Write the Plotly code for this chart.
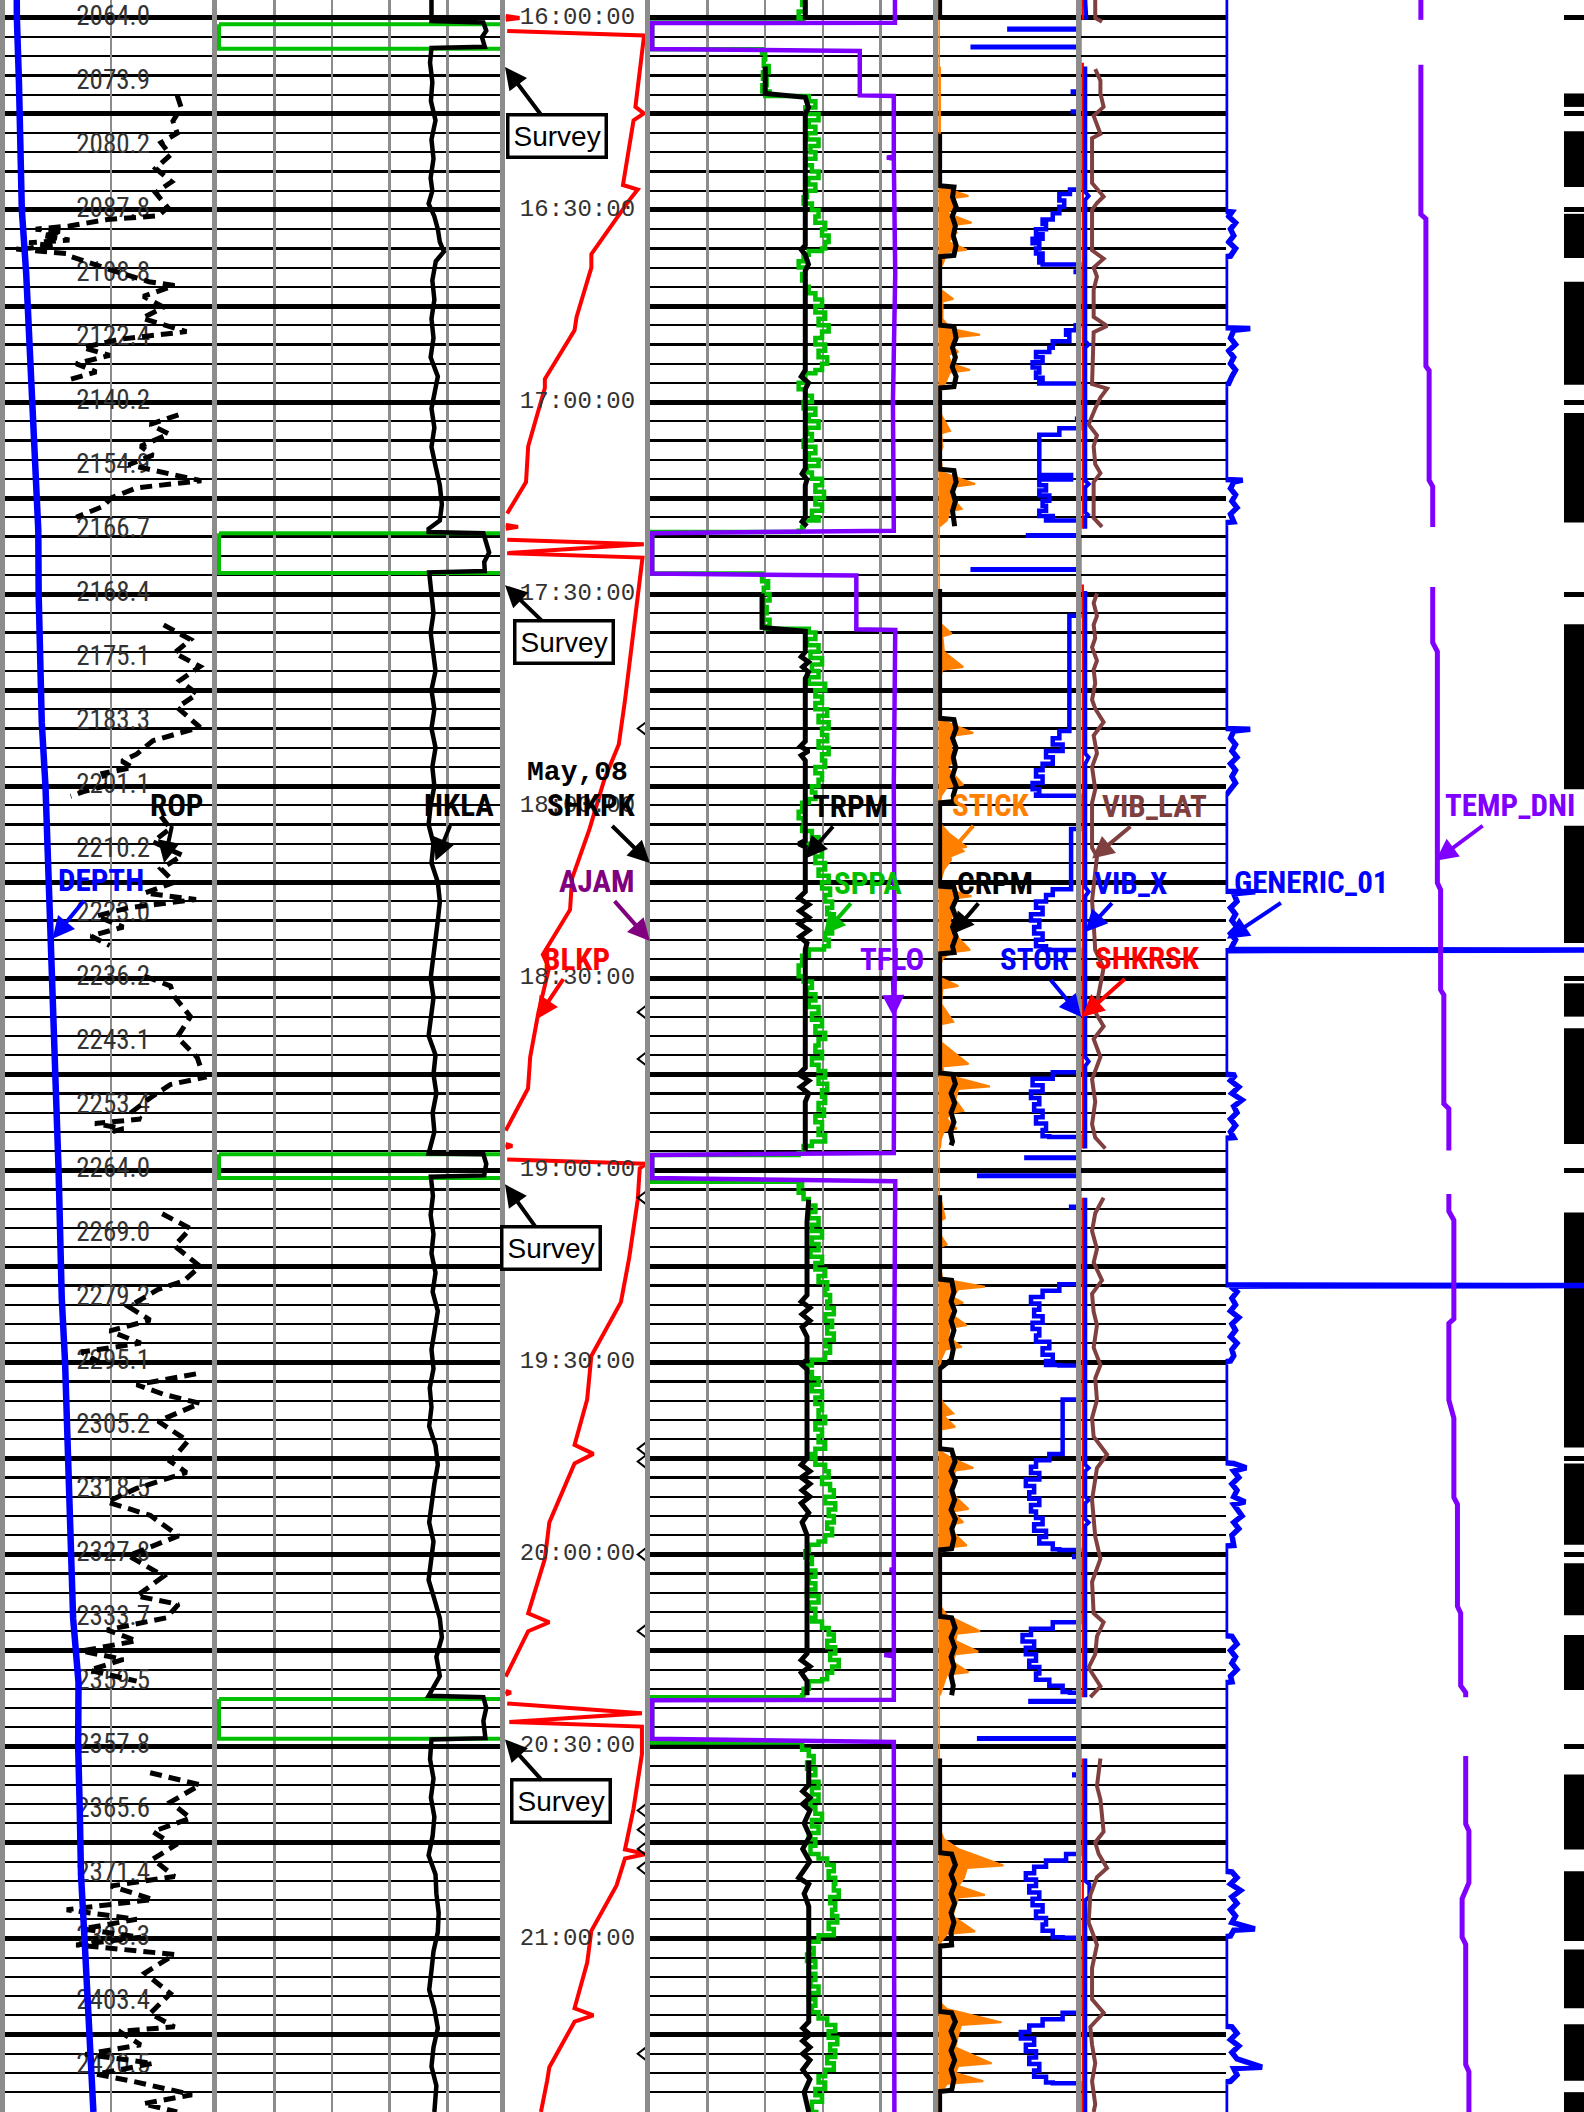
import plotly.graph_objects as go

# ---------------------------------------------------------------- data
# vertical axis: minutes after 16:00 on May 08 (one thin grid row = 3 min)
Y_RANGE = [327.1, -2.8]

DEPTH_LABEL_MIN = [0, 10, 20, 30, 40, 50, 60, 70, 80, 90, 100, 110, 120, 130, 140, 150, 160,
                   170, 180, 190, 200, 210, 220, 230, 240, 250, 260, 270, 280, 290, 300, 310, 320]
DEPTH_LABELS = ["2064.0", "2073.9", "2080.2", "2087.8", "2108.8", "2122.4", "2140.2", "2154.9",
                "2166.7", "2168.4", "2175.1", "2183.3", "2201.1", "2210.2", "2223.0", "2236.2",
                "2243.1", "2253.4", "2264.0", "2269.0", "2279.2", "2295.1", "2305.2", "2318.5",
                "2327.8", "2333.7", "2359.5", "2357.8", "2365.6", "2371.4", "2388.3", "2403.4", "2420.5"]
DEPTH_CURVE_MIN = [-2.8] + DEPTH_LABEL_MIN + [327.1]
DEPTH_CURVE_FT = [2063.5] + [float(v) for v in DEPTH_LABELS] + [2431.0]

TIME_LABEL_MIN = [0, 30, 60, 90, 123.1, 150, 180, 210, 240, 270, 300]
TIME_LABELS = ["16:00:00", "16:30:00", "17:00:00", "17:30:00", "18:00:00", "18:30:00", "19:00:00",
               "19:30:00", "20:00:00", "20:30:00", "21:00:00"]
DATE_LABEL_MIN = [117.9]
DATE_LABELS = ["<b>May,08</b>"]

SURVEYS = [(1.0, 4.83), (80.5, 86.7), (177.5, 181.2), (262.6, 268.8)]
SURVEY_NOTE_MIN = [7.66, 88.6, 182.2, 268.9]

SHKPK_MIN = [111.0, 155.3, 162.6, 184.3, 223.5, 225.5, 240.0, 252.0, 280.0, 283.0, 286.0, 289.0, 318.0]

FLAG_BLOCKS = [(11.8, 13.9), (17.7, 26.4), (30.6, 37.5), (41.2, 57.3), (61.7, 78.8), (94.7, 120.5),
               (126.2, 144.5), (150.8, 156.0), (157.8, 175.9), (186.6, 223.3), (225.8, 238.5),
               (241.4, 249.5), (252.6, 261.2), (274.4, 286.1), (289.5, 299.9), (301.7, 310.9),
               (313.4, 322.2), (324.0, 327.1)]

# curve samples: (minute, value in % of track width); None = gap
ROP = [(12.1, 81.3), (14.0, 83.2), (16.1, 79.3), (18.0, 81.3), (19.5, 73.6), (21.4, 78.1), (23.5, 71.1),
       (25.6, 78.7), (27.3, 71.1), (29.6, 76.8), (30.9, 72.3), (31.5, 48.1), (32.5, 30.3), (33.0, 14.3),
       (33.4, 27.1), (34.0, 17.5), (34.7, 30.3), (35.1, 11.2), (35.7, 23.9), (36.1, 4.8), (36.8, 29.0),
       (37.2, 30.3), (39.3, 49.4), (41.2, 67.9), (41.8, 80.0), (43.5, 65.3), (45.2, 74.9), (46.9, 64.7),
       (49.0, 85.7), (49.6, 67.2), (50.2, 53.9), (51.5, 36.6), (52.7, 49.4), (54.0, 33.5), (55.3, 43.0),
       (56.5, 30.3), None,
       (62.0, 81.9), (63.5, 68.5), (65.0, 77.4), (66.9, 64.0), (68.3, 69.8), (69.8, 58.3), (72.3, 92.7),
       (73.4, 62.1), (75.0, 50.0), (76.3, 46.2), (78.0, 33.5), None,
       (94.8, 74.9), (97.1, 87.6), (99.2, 80.0), (101.3, 92.1), (103.5, 82.5), (105.6, 90.8), (107.7, 81.3),
       (110.8, 92.1), (112.9, 69.8), (115.0, 62.1), (116.1, 55.1), (117.1, 60.2), (118.0, 46.2),
       (119.9, 48.1), (120.9, 36.6), (121.6, 30.9), None,
       (124.7, 73.6), (126.6, 78.1), (128.7, 69.8), (130.8, 83.8), (132.9, 73.6), (135.0, 80.0),
       (136.7, 66.0), (137.7, 90.2), (139.0, 58.3), (140.3, 43.0), (142.0, 55.8), (143.4, 40.5),
       (144.9, 49.4), None,
       (149.7, 66.0), (151.2, 78.1), (152.9, 80.0), (156.0, 87.6), (159.2, 81.3), (162.4, 90.8),
       (165.5, 94.0), (166.6, 78.1), (168.7, 68.5), (170.8, 60.2), (172.0, 64.0), (172.7, 42.4),
       (173.5, 55.8), (174.2, 48.1), None,
       (186.8, 74.2), (189.1, 87.6), (191.8, 80.0), (195.0, 92.1), (197.3, 84.4), (198.6, 72.3),
       (201.3, 58.3), (203.4, 68.5), (205.1, 49.4), (207.0, 64.0), (208.4, 36.0), (210.3, 46.2), None,
       (211.8, 90.2), (213.5, 62.1), (215.0, 74.9), (216.4, 92.1), (219.2, 72.3), (222.3, 86.4),
       (225.5, 78.1), (227.2, 85.7), (229.7, 62.1), (231.8, 48.1), (233.9, 68.5), (237.1, 81.9),
       (240.2, 58.3), (243.4, 74.9), (246.5, 62.1), (247.8, 81.9), (249.9, 76.2), (251.8, 48.1),
       (253.5, 62.1), (255.1, 36.0), (256.4, 55.8), (258.1, 39.8), (259.8, 62.1), None,
       (274.1, 68.5), (276.0, 92.1), (278.7, 78.1), (281.2, 87.6), (283.3, 69.8), (285.5, 80.0),
       (287.6, 69.8), (290.3, 80.0), (291.8, 50.0), (293.9, 69.8), (295.5, 29.0), (297.0, 62.1),
       (298.5, 36.6), (299.8, 64.0), (301.0, 33.5), (302.5, 80.0), (305.4, 66.0), (308.6, 78.1),
       (311.7, 68.5), (313.8, 80.0), (314.5, 53.9), (316.6, 64.0), (318.1, 37.9), (319.5, 69.8),
       (321.2, 43.0), (322.3, 60.2), (324.4, 88.3), (325.8, 65.3), (327.1, 81.3)]

HKLA = [(-2.8, 74.5), (0.5, 74.5), (0.7, 92.5), (2, 93.5), (3, 92), (4.5, 93), (4.7, 74.5), (7, 74.0),
        (10, 74.8), (13, 74.3), (16, 75.9), (19, 74.5), (22, 75.2), (25, 74.2), (27, 74.8), (29, 73.5),
        (31, 75.5), (33, 76.7), (35, 77.4), (36.5, 78.8), (38, 76), (41, 74.8), (44, 75.5), (47, 74.5),
        (50, 75.2), (53, 74.2), (56, 76.7), (58, 75.8), (61, 74.5), (64, 75.5), (67, 74.5), (70, 75.9),
        (73, 77.4), (76, 78.1), (78.5, 77.4), (79.8, 73.5), (80.3, 73.5), (80.5, 92.5), (82, 93.5),
        (83.5, 94.5), (85, 92.8), (86.4, 93), (86.6, 73.7), (90, 74.5), (93, 75.2), (96, 74.2),
        (99, 74.9), (102, 75.9), (105, 74.5), (108, 75.5), (111, 74.5), (114, 75.9), (117, 74.8),
        (120, 75.5), (123, 74.2), (126, 73.5), (129, 75.2), (132, 74.5), (135, 76.7), (138, 77.4),
        (141, 76.7), (144, 75.9), (147, 74.8), (150, 74.2), (153, 75.2), (156, 74.5), (159, 73.5),
        (162, 75.9), (165, 75.2), (168, 76.2), (171, 74.9), (174, 75.5), (177, 74.0), (177.4, 73.5),
        (177.5, 92.5), (179, 93.5), (180.8, 92.8), (181, 74.3), (184, 75), (187, 74.2), (190, 75.2),
        (193, 74.5), (196, 75.9), (199, 74.9), (202, 76.7), (205, 75.5), (208, 74.5), (211, 75.2),
        (214, 73.9), (217, 74.5), (220, 73.7), (223, 75.9), (226, 76.7), (229, 75.5), (232, 74.5),
        (235, 73.7), (238, 75.2), (241, 74.3), (244, 73.5), (247, 75.5), (250, 77.4), (253, 78.1),
        (256, 76.2), (259, 77.4), (261.5, 74.2), (262.1, 73.5), (262.3, 92.5), (264, 93.5), (266, 92.5),
        (268.7, 93.2), (268.9, 74.5), (272, 74), (275, 75.2), (278, 74.3), (281, 75.5), (284, 74.9),
        (287, 73.5), (290, 75.9), (293, 76.2), (296, 77), (299, 76.7), (302, 75.2), (305, 74.5),
        (308, 73.7), (311, 75.5), (314, 76.7), (317, 75.2), (320, 74.5), (323, 76.2), (327.1, 75.5)]

BLKP = [(-0.3, 0.5), (0.0, 10), (0.3, 0.5), None,
        (2.04, 1.5), (2.74, 95.8), (3.09, 95.8), (13.9, 90), (14.9, 95.8), (16.0, 88.7), (26.1, 81.4),
        (26.8, 91.6), (28.5, 85.7), (36.9, 59.6), (39.0, 59.6), (46.7, 49.4), (48.8, 48), (56.4, 27.5),
        (57.8, 27.5), (66.9, 16), (72.5, 14.5), (77.4, 1.5), None,
        (79.2, 0.5), (79.5, 9), (79.8, 0.5), None,
        (81.5, 1.5), (82.2, 95.8), (83.6, 1.5), (84.3, 94.9), (106.6, 82.8), (113.5, 78.5), (119.0, 68.5),
        (126.7, 58.3), (134.4, 46.3), (139.3, 44.9), (146.3, 26.1), (148.4, 30.4), (155.3, 23.1),
        (162.3, 17.4), (167.2, 15.9), (173.8, 0.5), None,
        (175.9, 0.5), (176.2, 5), (176.5, 0.5), None,
        (178.3, 1.5), (179.0, 97.2), (179.7, 93), (184.6, 91.6), (193.7, 85.7), (200.6, 80), (209.0, 59.6),
        (215.8, 56.7), (222.9, 48), (224.3, 61), (225.8, 48), (235.0, 30.6), (240.7, 27.5), (249.2, 16),
        (250.6, 30.6), (252.0, 16), (259.1, 0.5), None,
        (261.3, 0.5), (261.6, 4), (261.9, 0.5), None,
        (263.3, 1.5), (264.8, 94.5), (266.2, 3), (266.9, 94.5), (271.2, 94.5), (279.7, 88.7), (286.1, 82.8),
        (286.8, 97.2), (287.5, 82.8), (291.7, 77), (298.8, 59.6), (303.8, 56.7), (310.9, 48), (312.0, 61),
        (313.0, 48), (320.1, 30.6), (322.2, 29.1), (327.1, 24.8)]

TFLO = [(-2.8, 85), (0.77, 85), (0.78, 0.8), (4.84, 0.8), (5.18, 72.8), (12.1, 72.8), (12.2, 84.6),
        (21.7, 84.6), (21.8, 82.2), (22.0, 84.6), (40, 85.1), (60, 84.3), (80.1, 84.6), (80.5, 0.8),
        (86.8, 0.8), (87.1, 71.6), (95.5, 71.6), (95.6, 85.1), (120, 84.6), (150, 84.9), (177.3, 84.6),
        (177.6, 0.8), (181.2, 0.8), (181.7, 85.1), (220, 84.6), (242.3, 84.6), (242.4, 83.2),
        (242.6, 84.6), (255.6, 84.6), (255.7, 81.3), (255.9, 84.6), (262.7, 84.6), (262.8, 0.8),
        (268.8, 0.8), (269.3, 84.6), (327.1, 84.8)]

TRPM = [(-2.8, 53.9), (0.3, 53.9), None,
        (7.6, 40), (11.8, 40), (12.4, 53.9), (14, 55), (15, 53.9), (35.5, 53.9), (36.2, 52.5), (37, 53.9),
        (38.5, 55), (39.5, 53.9), (55, 53.9), (56, 52.5), (57, 55), (58, 53.9), (70.4, 53.9), (71.2, 52.8),
        (72.1, 54.5), (73, 53.9), (78, 53.9), (78.7, 52.8), (79.4, 54.5), None,
        (89.9, 38.9), (95.2, 38.9), (95.8, 53.9), (99, 53.9), (99.8, 52.5), (100.6, 55), (101.4, 53),
        (102.2, 55), (103.2, 53.9), (113, 53.9), (113.8, 52.2), (114.5, 55.1), (115.2, 52.5), (116, 53.9),
        (128.5, 53.9), (129, 51.6), (129.5, 53.9), (136.5, 53.9), (137.5, 51.6), (138.5, 55.1), (139.5, 52),
        (140.5, 55.1), (141.5, 51.8), (142.5, 55.1), (143.5, 52), (144.5, 54.5), (145.5, 53.9), (164, 53.9),
        (165, 51.6), (166, 55.1), (167, 52.2), (168, 55.1), (169.3, 53.9), (176.9, 53.9), None,
        (184.6, 55.1), (188, 54.5), (199.5, 54.5), (200.5, 52.5), (201.5, 55.5), (202.5, 52.8), (203.5, 55.5),
        (204.5, 52.8), (206, 54.5), (209.6, 54.5), (210.3, 52.5), (211.1, 54.5), (225, 54.5), (226, 52.5),
        (227, 55.5), (228, 52.5), (229, 55.5), (230, 52.8), (231, 55.5), (232, 52.5), (233.5, 55.1),
        (235, 52.8), (237, 54.5), (255.5, 54.5), (256.5, 52.5), (257.5, 55.5), (258.5, 52.5), (259.8, 54.5),
        (262, 54.5), None,
        (272.2, 55.1), (276, 55.1), (277, 53), (278, 55.5), (279, 53), (280, 55.5), (282, 53.5), (284, 55.5),
        (286, 53), (288, 55.5), (290.5, 51.6), (291.5, 55.1), (293, 53.5), (295, 55.1), (313, 55.1),
        (314, 53), (315, 55.5), (316, 53), (317, 55.5), (318, 53), (319, 55.5), (320.5, 53), (322, 55.5),
        (324, 53.5), (327.1, 55.1)]

SPPA = [(-2.8, 52.8), (-2, 53.9), (-1, 51.6), (0, 53.3), (0.5, 52.8), (0.7, 0.8), (4.8, 0.8), (4.9, 38.9),
        (5.5, 40), (6.5, 39.5), (7.5, 41.2), (8.5, 39.2), (9.5, 40.5), (10.5, 39), (11.5, 41.5), (12.0, 40),
        (12.2, 55.1), (13, 57.4), (14, 53.9), (15, 58.5), (16, 55.1), (17, 57.4), (18, 54.5), (19, 58.5),
        (20, 55.7), (21, 57.4), (22, 53.9), (23, 56.2), (24, 58.5), (25, 55), (26, 57.4), (27, 54.5),
        (28, 53.3), (29, 56.2), (30, 58.5), (31, 57.4), (32, 60.8), (33, 59.7), (34, 62), (35, 60.8),
        (36, 59.7), (36.4, 55.1), (37, 53.3), (38, 51.6), (39, 53.9), (40, 52.8), (41, 53.9), (42, 55.1),
        (43, 57.4), (44, 59.7), (45, 57.4), (46, 60.8), (47, 58.5), (48, 62), (49, 59.7), (50, 57.4),
        (51, 60.8), (52, 58.5), (53, 61.5), (54, 59.7), (55, 57.4), (55.5, 53.9), (57, 51.6), (58, 53.9),
        (59, 56.2), (60, 53.3), (61, 57.4), (62, 55.1), (63, 58.5), (64, 54.5), (65, 56.2), (66, 53.3),
        (67, 57.4), (68, 55.1), (69, 58.5), (70, 54.5), (71, 56.2), (72, 59.7), (73, 57.4), (74, 60.4),
        (75, 57.4), (76, 59.7), (77, 56.2), (78, 58.5), (78.5, 53.3), (79.5, 52.8), (80.1, 51.6),
        (80.3, 0.8), (86.6, 0.8), (86.8, 38.9), (88, 41), (89, 39.5), (90, 41.5), (91, 39.2), (92, 40.5),
        (93, 39), (94, 41.5), (95, 40), (95.4, 55.1), (96, 57.4), (97, 54.5), (98, 58.5), (99, 55.7),
        (100, 59.7), (101, 56.2), (102, 58.5), (103, 55.1), (104, 60.8), (105, 57.4), (106, 59.7),
        (107, 57.4), (108, 61.5), (109, 58.5), (110, 62), (111, 59.7), (112, 61.5), (113, 58.5), (114, 62),
        (115, 59.7), (116, 60.8), (117, 57.4), (118, 59.7), (119, 58.5), (120, 56.2), (121, 57.4),
        (122, 55.1), (122.6, 52.8), (124, 51.6), (125, 53.3), (126.5, 52.8), (127, 56.2), (128, 58.5),
        (129, 55.1), (130, 59.7), (131, 57.4), (132, 60.8), (133, 58.5), (134, 62), (135, 59.7),
        (136, 62.5), (137, 60.8), (138, 63.2), (139, 61.5), (140, 63.8), (141, 62), (142, 63.2),
        (143, 60.8), (144, 62), (145, 60.4), (145.5, 55.1), (146.5, 52.8), (148, 51.6), (149.7, 53.3),
        (150.5, 56.2), (151.5, 54.5), (152.5, 57.4), (153.5, 55.1), (154.5, 58.5), (155.5, 56.2),
        (156.5, 59.7), (157.5, 57.4), (158.5, 60.8), (159.5, 58.5), (160.5, 57.4), (161.5, 59.7),
        (162.5, 56.2), (163.5, 58.5), (164.5, 60.8), (165.5, 58.5), (166.5, 61.5), (167.5, 59.7),
        (168.5, 60.8), (169.5, 58.5), (170.5, 60.4), (171.5, 57.4), (172.5, 59.7), (173.5, 58.5),
        (174.5, 60.8), (175.5, 56.2), (176.2, 53.3), (177.3, 51.6), (177.6, 0.8), (181.2, 0.8),
        (181.8, 52.8), (182.5, 51.6), (183.5, 53.3), (184.5, 55.1), (185.5, 57.4), (186.5, 55.1),
        (187.5, 58.5), (188.5, 56.2), (189.5, 59.7), (190.5, 56.2), (191.5, 58.5), (192.5, 55.7),
        (193.5, 59.7), (194.5, 57.4), (195.5, 60.8), (196.5, 58.5), (197.5, 61.5), (198.5, 60.8),
        (199.5, 62.5), (200.5, 61.5), (201.5, 63.8), (202.5, 60.8), (203.5, 63.2), (204.5, 61.5),
        (205.5, 63.8), (206.5, 60.8), (207.5, 62.5), (208.5, 60.8), (209.6, 56.2), (210.5, 54.5),
        (211.5, 56.2), (212.5, 58.5), (213.5, 56.2), (214.5, 59.7), (215.5, 57.4), (216.5, 59.7),
        (217.5, 58.5), (218.5, 60.8), (219.5, 57.4), (220.5, 59.7), (221.5, 58.5), (222.5, 60.8),
        (223.5, 57.4), (224.3, 55.1), (225, 57.4), (226, 60.8), (227, 62), (228, 59.7), (229, 62.5),
        (230, 63.8), (231, 60.8), (232, 64.3), (233, 62), (234, 63.8), (235, 61.5), (236, 63.2),
        (237, 60.8), (238, 58.5), (238.5, 55.1), (239.5, 53.9), (240.5, 56.2), (241.5, 54.5),
        (242.5, 57.4), (243.5, 55.1), (244.5, 57.4), (245.5, 54.5), (246.5, 58.5), (247.5, 55.1),
        (248.5, 57.4), (249.9, 56.2), (250.5, 59.7), (251.5, 62), (252.5, 63.8), (253.5, 61.5),
        (254.5, 64.3), (255.5, 62.5), (256.5, 65.5), (257.5, 63.2), (258.5, 61.5), (259.5, 59.7),
        (259.8, 55.1), (261, 53.3), (262, 52.8), (262.3, 0.8), (268.7, 0.8), (269.4, 52.8), (270.5, 55.1),
        (271.5, 56.8), (272.5, 54.5), (273.5, 57.4), (274.5, 55.1), (275.5, 58.5), (276.5, 56.2),
        (277.5, 58.5), (278.5, 55.7), (279.5, 57.4), (280.5, 59.7), (281.5, 56.2), (282.5, 58.5),
        (283.5, 55.1), (284.5, 57.4), (285.5, 55.7), (286.8, 58.5), (287.5, 61.5), (288.5, 63.8),
        (289.5, 62), (290.5, 64.3), (291.5, 63.8), (292.5, 65.5), (293.5, 62.5), (294.5, 64.3),
        (295.5, 63.2), (296.5, 65), (297.5, 62), (298.5, 63.8), (299.5, 58.5), (300.5, 55.1),
        (301.5, 56.8), (302.5, 54.5), (303.5, 57.4), (304.5, 55.1), (305.5, 57.4), (306.5, 55.7),
        (307.5, 58.5), (308.5, 55.1), (309.5, 57.4), (310.5, 56.2), (311.5, 58.5), (312.5, 61.5),
        (313.5, 64.3), (314.5, 62), (315.5, 65), (316.5, 62.5), (317.5, 64.3), (318.5, 61.5),
        (319.5, 63.8), (320.5, 60.8), (321.5, 58.5), (322.5, 60.8), (323.5, 57.4), (324.5, 59.7),
        (325.5, 56.2), (327.1, 58.5)]

STICK = [(-2.8, 1.2), (0.3, 1.2), None,
         (7.6, 1.2), (26, 1.2), (26.5, 4), (27.8, 21.1), (28.2, 8), (29.5, 12), (30.5, 6), (32.0, 23.3),
         (32.4, 9), (33.5, 13), (35, 7), (36.2, 19.9), (36.6, 6), (38.5, 3), (39, 1.2), (42.5, 2),
         (43.9, 10.5), (44.3, 3), (47, 3), (48.5, 8), (49.5, 29.2), (49.9, 12), (51, 8), (52.2, 14),
         (52.6, 7), (54, 9), (55, 22.2), (55.4, 8), (57, 5), (58, 1.2), (62, 2), (64.5, 8.3), (64.9, 2),
         (67, 3), (68, 1.2), (71, 3), (72.8, 25.7), (73.2, 12), (75, 10), (76.7, 16.4), (77.1, 8),
         (78.5, 6), (79.4, 1.2), None,
         (89.2, 1.2), (94.5, 1.2), (96.2, 9.4), (96.6, 3), (99, 4), (101.4, 17.5), (101.8, 3), (103, 1.2),
         (109, 1.2), (110, 6), (111.7, 24.5), (112.1, 11), (114, 9), (116, 12), (117, 6), (119.8, 17.5),
         (120.2, 6), (121.5, 2), (123, 1.2), (126, 2), (127.5, 8), (129.5, 19.9), (129.9, 7), (131.5, 9),
         (133, 4), (135, 1.2), (136, 4), (137.2, 23.3), (137.6, 10), (139.5, 12), (141, 8), (143, 11),
         (145.6, 22.2), (146, 8), (147, 3), (148, 1.2), (150, 2), (151.2, 14.0), (151.6, 3), (154, 2),
         (156.8, 10.5), (157.2, 2), (160, 2), (163.4, 21.1), (163.8, 3), (165, 4), (166.9, 36.1),
         (167.3, 14), (169, 12), (170.7, 17.5), (171.1, 8), (172, 6), (173.5, 12.9), (173.9, 4), (175, 2),
         (176.6, 1.2), None,
         (183.9, 1.2), (187.5, 4.7), (187.9, 1.2), (190, 1.2), (191.6, 5.9), (192, 1.2), (195, 1.2),
         (197, 3), (198.2, 32.6), (198.6, 14), (199.8, 10), (200.7, 17.5), (201.1, 8), (202.5, 9),
         (204.2, 19.9), (204.6, 8), (206, 7), (207.6, 16.4), (208, 5), (209.5, 2), (210.5, 1.2),
         (215.5, 1.2), (216.5, 4), (218, 10.5), (218.4, 4), (220.1, 11.8), (220.5, 2), (222, 1.2),
         (224, 2), (224.8, 8), (226.5, 24.5), (226.9, 12), (228.5, 10), (230, 9), (231, 12), (232.9, 21.1),
         (233.3, 10), (235, 17.5), (235.4, 7), (236.5, 10), (238.6, 19.9), (239, 4), (240, 1.2),
         (248, 1.2), (249.5, 6), (252, 29.2), (252.4, 13), (253.5, 12), (255.2, 28.0), (255.6, 12),
         (256.8, 10), (258.4, 21.1), (258.8, 6), (260, 4), (262, 1.2), None,
         (271.9, 1.2), (283, 1.2), (284.5, 4), (286, 14), (288.6, 45.5), (289, 20), (290.5, 18),
         (291.8, 14), (293.2, 32.6), (293.6, 14), (295, 12), (296.5, 10), (298.9, 25.7), (299.3, 6),
         (300.5, 2), (301.5, 1.2), (310, 1.2), (311, 6), (313.1, 44.3), (313.5, 16), (315, 14), (317, 12),
         (319.5, 37.3), (319.9, 14), (321, 12), (322.3, 31.5), (322.7, 6), (324, 2), (325, 1.2),
         (327.1, 1.2)]

CRPM = [(-2.8, 1), (0.3, 1), None,
        (18.1, 1), (26.2, 1), (26.4, 11), (28, 10), (29.5, 12.5), (31, 9.8), (32.5, 12), (34, 10.5),
        (35.5, 12.5), (37.1, 11), (37.3, 1), (48, 1), (48.2, 11), (50, 12.5), (51.5, 10), (53, 12),
        (54.5, 9.8), (56, 12.5), (57.6, 11), (57.8, 1), (70.5, 1), (70.7, 11), (72.5, 12.5), (74, 10),
        (75.5, 12), (77, 10), (79.4, 11.5), None,
        (89.2, 1), (109.4, 1), (109.6, 11), (111, 12.5), (112.5, 10), (114, 12.5), (115.5, 10.5), (117, 12),
        (118.5, 9.8), (120, 12.5), (121.5, 10.5), (122.4, 11), (122.6, 1), (135.6, 1), (135.8, 11),
        (137.5, 12.9), (139, 9.8), (140.5, 12.5), (142, 10), (143.5, 12.5), (145, 10), (146, 11),
        (146.2, 1), (164.8, 1), (165, 10), (166.5, 12), (168, 9), (169.5, 11.5), (171, 9), (172.5, 11),
        (174, 8.5), (175.5, 10), (176.1, 9), None,
        (183.9, 1), (197, 1), (197.2, 9.4), (199, 11), (200.5, 9), (202, 11.5), (203.5, 9), (205, 11),
        (206.5, 9), (208, 10.5), (209.6, 9), (211, 1), (223.5, 1), (223.7, 9.4), (225.5, 11.8), (227, 9),
        (228.5, 12), (230, 9.5), (231.5, 11.5), (233, 9), (234.5, 12), (236, 9.5), (237.5, 11),
        (239.1, 9.4), (239.3, 1), (249.7, 1), (249.9, 9.4), (251.5, 11.8), (253, 9), (254.5, 11.5),
        (256, 9), (257.5, 11), (259, 9), (260.5, 10.5), (262, 9.4), None,
        (271.9, 1), (286.6, 1), (286.8, 9.4), (288.5, 12), (290, 9), (291.5, 11.5), (293, 9), (294.5, 11.5),
        (296, 9), (297.5, 11), (299, 9), (301, 9.4), (301.2, 1), (311.4, 1), (311.6, 9.4), (313, 12),
        (314.5, 9), (316, 11.5), (317.5, 9), (319, 11.5), (320.5, 9), (322, 11), (323.7, 9.4), (323.9, 1),
        (327.1, 1)]

# STOR is plotted right-to-left (0 at the right edge of its track)
STOR = [(-2.8, 0), (1.6, 0), (1.7, 50.3), (1.8, 0), (4.4, 0), (4.5, 75.9), (4.6, 0), (11.4, 0), (11.5, 6),
        (11.6, 0), (14.5, 0), (14.6, 6), (14.7, 0), (26.6, 0), (26.8, 8), (27.5, 15.4), (28.5, 12),
        (29.5, 15.4), (30.5, 20), (31.5, 27.1), (32.2, 24.7), (33, 31.7), (33.8, 27.1), (34.5, 34.1),
        (35.2, 29.4), (36, 31.7), (36.8, 27.1), (37.5, 29.4), (38.2, 27.1), (38.5, 0), (39.5, 0), (39.6, 4),
        (39.7, 0), (47.8, 0), (48, 4), (48.8, 10.7), (49.5, 8.4), (50.5, 20), (51.5, 22.4), (52.2, 31.7),
        (53, 27.1), (53.8, 34.1), (54.6, 29.4), (55.4, 31.7), (56.2, 27.1), (56.9, 29.4), (57.1, 0),
        (62.5, 0), (62.6, 3), (62.7, 0), (64, 0), (64.1, 15.4), (65.1, 29.4), (71.3, 29.4), (71.4, 7.2),
        (72, 7.2), (72.1, 29.4), (73, 24.7), (73.8, 29.4), (74.6, 22.4), (75.4, 27.1), (76.2, 24.7),
        (77, 29.4), (77.8, 20), (78.4, 24.7), (78.5, 0), (80.7, 0), (80.8, 37.3), (80.9, 0), (86, 0),
        (86.1, 75.9), (86.2, 0), (93.3, 0), (93.4, 8.4), (111.3, 8.4), (111.4, 15.4), (112.5, 20),
        (113.5, 13.1), (114.5, 24.7), (115.5, 20), (116.5, 27.1), (117.5, 31.7), (118.5, 27.1),
        (119.5, 34.1), (120.5, 29.4), (121.3, 31.7), (121.5, 0), (126.6, 0), (126.7, 7.2), (136, 7.2),
        (136.1, 20), (137, 24.7), (138, 31.7), (139, 27.1), (140, 35.2), (141, 29.4), (142, 33),
        (143, 27.1), (144, 31.7), (145, 24.7), (145.5, 22.4), (145.6, 0), (164.6, 0), (164.7, 20),
        (165.7, 34.1), (166.7, 27.1), (167.7, 35.2), (168.7, 29.4), (169.7, 33), (170.7, 27.1),
        (171.7, 31.7), (172.7, 24.7), (173.7, 27.1), (174.7, 22.4), (174.8, 0), (177.9, 0), (178.0, 38.4),
        (178.1, 0), (180.7, 0), (180.8, 71.4), (180.9, 0), (185.6, 0), (185.7, 7.2), (185.8, 0),
        (197.7, 0), (197.8, 15.4), (198.8, 27.1), (199.8, 35.2), (200.8, 29.4), (201.8, 33), (202.8, 27.1),
        (203.8, 34.1), (204.8, 29.4), (205.8, 31.7), (206.8, 22.4), (207.8, 27.1), (208.8, 20),
        (209.8, 24.7), (210.4, 15.4), (210.5, 0), (215.7, 0), (215.8, 13.1), (224.2, 13.1), (224.3, 22.4),
        (225.3, 31.7), (226.3, 35.2), (227.3, 29.4), (228.3, 38.8), (229.3, 33), (230.3, 36.4),
        (231.3, 29.4), (232.3, 35.2), (233.3, 31.7), (234.3, 27.1), (235.3, 33), (236.3, 24.7),
        (237.3, 29.4), (238.3, 20), (239.2, 15.4), (239.3, 0), (240.2, 0), (240.3, 5), (240.4, 0),
        (250.5, 0), (250.6, 20), (251.6, 35.2), (252.6, 41.1), (253.6, 33), (254.6, 38.8), (255.6, 31.7),
        (256.6, 36.4), (257.6, 29.4), (258.6, 31.7), (259.6, 22.4), (260.5, 13.1), (261.5, 8), (261.6, 0),
        (262.8, 0), (262.9, 35.6), (263, 0), (268.6, 0), (268.7, 71.4), (268.8, 0), (274.3, 0), (274.4, 5),
        (274.5, 0), (286.7, 0), (286.8, 10.7), (287.8, 24.7), (288.8, 33), (289.8, 38.8), (290.8, 31.7),
        (291.8, 36.4), (292.8, 29.4), (293.8, 34.1), (294.8, 27.1), (295.8, 31.7), (296.8, 24.7),
        (297.8, 27.1), (298.8, 20), (299.8, 13.1), (299.9, 0), (311.5, 0), (311.6, 13.1), (312.6, 27.1),
        (313.6, 36.4), (314.6, 42.3), (315.6, 33), (316.6, 38.8), (317.6, 31.7), (318.6, 36.4),
        (319.6, 29.4), (320.6, 33), (321.6, 24.7), (322.5, 20), (322.6, 0), (327.1, 0)]

VIB_X = [(-2.8, 2.7), (0.3, 3.5), None,
         (7.6, 2.7), (27.2, 2.7), (27.8, 5.0), (28.4, 2.7), (50.5, 2.7), (51, 5.0), (51.5, 2.7), (72.3, 2.7),
         (72.8, 5.0), (73.3, 2.7), (77.2, 2.7), (77.6, 4.5), (78, 2.7), (79.8, 2.7), None,
         (89.5, 2.7), (114.9, 2.7), (115.5, 5.0), (116.5, 2.7), (135.8, 2.7), (136.5, 5.0), (137.2, 2.7),
         (162.3, 2.7), (163, 5.0), (163.7, 2.7), (176.6, 2.7), None,
         (184.3, 2.7), (226, 2.7), (226.5, 5.0), (227, 2.7), (231, 2.7), (231.5, 5.0), (232, 2.7),
         (234.5, 2.7), (235, 5.0), (235.5, 2.7), (262.3, 2.7), None,
         (271.9, 2.7), (291, 2.7), (291.5, 5.5), (293.5, 5.5), (294, 2.7), (327.1, 2.7)]

SHKRSK = [(-2.8, 0.9), (0.3, 0.9), None, (7.0, 0.9), (79.8, 0.9), None, (88.5, 0.9), (176.6, 0.9), None,
          (184.3, 0.9), (262.3, 0.9), None, (271.9, 0.9), (327.1, 0.9)]

VIB_LAT = [(-2.8, 9.6), (0.0, 9.6), (0.6, 14.3), None,
           (8.0, 9.6), (9.8, 13.2), (11.8, 13.2), (13.9, 15.4), (15.3, 8.5), (18.1, 13.2), (18.8, 7.4),
           (25.8, 7.4), (27.9, 15.4), (28.9, 10.8), (30.0, 7.4), (36.3, 7.4), (37.6, 15.4), (39.0, 8.5),
           (40.4, 10.8), (42.5, 8.5), (46.7, 8.5), (48.1, 17.8), (49.1, 8.5), (57.2, 7.4), (57.9, 17.8),
           (59.3, 13.2), (61.0, 9.6), (63.5, 5.0), (65.2, 10.8), (66.9, 8.5), (69.7, 9.6), (71.1, 13.2),
           (72.5, 8.5), (78.1, 8.5), (79.5, 14.3), None,
           (89.9, 10.8), (91.4, 8.5), (93.4, 10.8), (94.8, 8.5), (96.9, 9.6), (98.3, 7.4), (100.4, 10.8),
           (101.8, 8.5), (103.9, 9.6), (106.5, 7.4), (107.9, 9.6), (110.0, 15.4), (112.1, 8.5), (114.9, 10.8),
           (117.0, 7.4), (120.5, 9.6), (122.6, 7.4), (129.6, 7.4), (131.0, 10.8), (137.9, 7.4), (141.4, 8.5),
           (145.6, 9.6), (148.4, 15.4), (155.3, 9.6), (157.5, 15.4), (159.5, 8.5), (162.3, 13.2),
           (165.8, 7.4), (169.3, 9.6), (172.8, 7.4), (174.9, 9.6), (176.6, 16.6), None,
           (184.3, 15.4), (186.7, 9.6), (189.5, 7.4), (192.3, 10.8), (194.4, 8.5), (197.2, 14.3),
           (199.3, 7.4), (202.1, 8.5), (204.2, 10.8), (207.7, 8.5), (210.4, 13.2), (212.5, 9.6),
           (215.9, 10.8), (218.7, 7.4), (221.6, 8.5), (224.4, 17.8), (226.5, 10.8), (231.5, 7.4),
           (237.2, 9.6), (240.7, 13.2), (244.3, 7.4), (249.2, 8.5), (250.6, 15.4), (252.8, 10.8),
           (255.6, 9.6), (257.7, 5.0), (260.6, 13.2), (262.3, 6.2), None,
           (271.9, 13.2), (276.2, 10.8), (278.3, 13.2), (283.3, 15.4), (285.0, 9.6), (286.8, 12.0),
           (289.0, 17.8), (290.4, 10.8), (293.2, 6.2), (297.5, 5.0), (298.9, 7.4), (301.0, 10.8),
           (304.6, 7.4), (309.5, 7.4), (311.6, 15.4), (313.8, 6.2), (316.6, 7.4), (319.5, 9.6),
           (322.3, 7.4), (325.9, 9.6), (327.1, 8.5)]

GENERIC_01 = [(-2.8, 0), (30.2, 0), (30.3, 1.8), (31, 0.9), (32, 2.8), (33, 1.4), (34, 2.3), (35, 0.9),
              (36, 2.8), (37.2, 1.4), (37.3, 0), (48.4, 0), (48.5, 6.9), (48.8, 2.3), (50, 1.4), (51, 2.8),
              (52, 0.9), (53, 2.3), (54, 1.4), (55, 2.8), (56, 1.8), (57.1, 0.9), (57.2, 0), (72.1, 0),
              (72.2, 4.8), (72.5, 2.3), (73.5, 1.4), (74.5, 2.8), (75.5, 1.8), (76.5, 3.2), (77.5, 1.4),
              (78.7, 2.3), (78.8, 0), (111, 0), (111.1, 6.9), (111.4, 2.3), (112.5, 1.4), (113.5, 2.8),
              (114.5, 1.8), (115.5, 3.2), (116.5, 1.4), (117.5, 2.8), (118.5, 1.8), (119.5, 2.8), (120.5, 1.4),
              (121.5, 0), (136.4, 0), (136.5, 8.3), (136.8, 2.3), (138, 3.2), (139, 1.4), (140, 2.8),
              (141, 1.8), (142, 3.2), (143, 1.4), (144, 2.8), (145.5, 1.4), (145.6, 105), (145.7, 0),
              (165, 0), (165.1, 2.8), (166, 1.4), (167, 3.7), (168, 1.8), (169, 4.6), (170, 2.3), (171, 3.2),
              (172, 1.4), (173, 2.8), (174, 1.4), (174.9, 2.3), (175, 0), (197.9, 0), (198, 105), (198.1, 1.4),
              (199, 3.2), (200, 1.8), (201, 2.8), (202, 1.4), (203, 3.7), (204, 1.8), (205, 2.8), (206, 1.4),
              (207, 3.2), (208, 1.8), (209, 2.3), (209.8, 1.4), (209.9, 0), (225.7, 0), (225.8, 2.3),
              (226.5, 5.8), (227, 2.3), (228, 3.7), (229, 1.8), (230, 3.2), (231, 2.3), (231.8, 5.5),
              (232.2, 2.3), (233, 3.2), (234, 4.6), (235, 2.3), (236, 3.7), (237, 1.8), (238.6, 2.3),
              (238.7, 0), (252.7, 0), (252.8, 1.8), (254, 3.2), (255, 1.4), (256, 2.8), (257, 1.8), (258, 3.2),
              (259, 1.4), (259.9, 1.8), (260, 0), (289.5, 0), (289.6, 1.8), (290.5, 3.2), (291.5, 1.4),
              (292.5, 4.2), (293.5, 1.8), (294.5, 3.2), (295.5, 1.4), (296.5, 2.8), (297.5, 1.8), (298.5, 8.2),
              (298.7, 2.3), (299.6, 1.4), (299.7, 0), (313.7, 0), (313.8, 1.8), (314.8, 3.2), (315.8, 1.4),
              (316.8, 3.7), (317.8, 1.8), (318.8, 3.2), (320.1, 10.2), (320.3, 2.3), (321.3, 3.2),
              (322.3, 1.4), (322.4, 0), (327.1, 0)]

TEMP_DNI = [(-2.8, 54.5), (0.3, 54.5), None,
            (7.3, 54.5), (30.7, 54.5), (31.4, 55.9), (54.4, 55.9), (55.1, 56.8), (72.2, 56.8), (73.2, 57.8),
            (79.5, 57.8), None,
            (88.9, 57.8), (97.6, 57.8), (99.0, 59.1), (135.1, 59.1), (136.2, 60.0), (151.8, 60.0),
            (152.6, 60.9), (169.6, 60.9), (170.4, 62.3), (176.9, 62.3), None,
            (183.7, 62.3), (186.4, 62.3), (187.8, 63.7), (203.2, 63.7), (203.9, 62.3), (215.9, 62.3),
            (218.7, 63.7), (231.1, 63.7), (232.2, 64.7), (248.1, 64.7), (249.2, 65.6), (260.5, 65.6),
            (261.6, 67.0), (262.3, 67.0), None,
            (271.5, 67.0), (282.1, 67.0), (283.2, 67.9), (291.3, 67.9), (293.8, 66.0), (299.8, 66.0),
            (300.9, 67.0), (319.7, 67.0), (320.8, 67.9), (327.1, 67.9)]

# curve-name labels: (name, colour, x-axis, value at arrow tip, minute at arrow tip, dx px, dy px)
CURVE_LABELS = [
    ("ROP", "#000000", "x", 75.1, 132.0, 12, -57),
    ("DEPTH", "#0000ff", "x", 22.3, 143.85, 48, -58),
    ("HKLA", "#000000", "x2", 75.9, 131.65, 23, -55),
    ("SHKPK", "#000000", "x4", 0.0, 132.0, -58, -57),
    ("AJAM", "#800080", "x4", 0.0, 144.2, -53, -60),
    ("BLKP", "#ff0000", "x3", 21.8, 156.4, 40, -60),
    ("TRPM", "#000000", "x4", 53.9, 131.3, 45, -52),
    ("SPPA", "#00c000", "x4", 60.2, 143.15, 45, -51),
    ("TFLO", "#8000ff", "x4", 84.6, 156.05, -1.5, -57),
    ("STICK", "#ff8000", "x5", 3.2, 131.65, 48, -55),
    ("CRPM", "#000000", "x5", 9.6, 143.15, 43.5, -51),
    ("STOR", "#0000ff", "x5", 99.9, 156.05, -47, -57),
    ("VIB_LAT", "#804040", "x6", 7.4, 131.3, 62.5, -52),
    ("VIB_X", "#0000ff", "x6", 2.7, 142.8, 45, -49),
    ("SHKRSK", "#ff0000", "x6", 0.5, 156.05, 65, -58),
    ("GENERIC_01", "#0000ff", "x9", 0.4, 143.85, 84, -56),
    ("TEMP_DNI", "#8000ff", "x9", 58.6, 131.65, 74, -55),
]

# ---------------------------------------------------------------- helpers
NARROW = "Liberation Sans Narrow, Arial Narrow, Roboto Condensed, DejaVu Sans Condensed, Liberation Sans, sans-serif"
MONO = "Liberation Mono, Courier New, DejaVu Sans Mono, monospace"


def split(pairs):
    vals, mins = [], []
    for p in pairs:
        if p is None:
            vals.append(None)
            mins.append(None)
        else:
            mins.append(p[0])
            vals.append(p[1])
    return vals, mins


fig = go.Figure()


def curve(pairs, xaxis, yaxis, color, width, shape="linear", dash="solid", fill=None, fillcolor=None):
    v, t = split(pairs)
    fig.add_trace(go.Scatter(x=v, y=t, xaxis=xaxis, yaxis=yaxis, mode="lines",
                             line=dict(color=color, width=width, shape=shape, dash=dash),
                             fill=fill, fillcolor=fillcolor, connectgaps=False,
                             hoverinfo="skip", showlegend=False))


# ---------------------------------------------------------------- track 1
fig.add_trace(go.Scatter(x=[51] * len(DEPTH_LABELS), y=DEPTH_LABEL_MIN, text=DEPTH_LABELS,
                         mode="text", xaxis="x", yaxis="y",
                         textfont=dict(family=NARROW, size=27, color="#333333"),
                         hoverinfo="skip", showlegend=False))
curve(ROP, "x", "y", "#000000", 5, dash="12px,7px")
fig.add_trace(go.Scatter(x=DEPTH_CURVE_FT, y=DEPTH_CURVE_MIN, xaxis="x10", yaxis="y", mode="lines",
                         line=dict(color="#0000ff", width=6.5), hoverinfo="skip", showlegend=False))

# ---------------------------------------------------------------- track 2
for t0, t1 in SURVEYS:
    fig.add_trace(go.Scatter(x=[0.8, 100, 100, 0.8, 0.8], y=[t0, t0, t1, t1, t0], xaxis="x2", yaxis="y2",
                             mode="lines", line=dict(color="#00c000", width=4),
                             hoverinfo="skip", showlegend=False))
curve(HKLA, "x2", "y2", "#000000", 4.5)

# ---------------------------------------------------------------- time column
curve(BLKP, "x3", "y3", "#ff0000", 4)
fig.add_trace(go.Scatter(x=[50] * len(TIME_LABELS), y=TIME_LABEL_MIN, text=TIME_LABELS, mode="text",
                         xaxis="x3", yaxis="y3", textfont=dict(family=MONO, size=24, color="#333333"),
                         hoverinfo="skip", showlegend=False))
fig.add_trace(go.Scatter(x=[50] * len(DATE_LABELS), y=DATE_LABEL_MIN, text=DATE_LABELS, mode="text",
                         xaxis="x3", yaxis="y3", textfont=dict(family=MONO, size=28, color="#000000"),
                         hoverinfo="skip", showlegend=False))
fig.add_trace(go.Scatter(x=[95.4] * len(SHKPK_MIN), y=SHKPK_MIN, xaxis="x3", yaxis="y3", mode="markers",
                         marker=dict(symbol="triangle-left-open", size=11, color="#000000",
                                     line=dict(width=2, color="#000000")),
                         hoverinfo="skip", showlegend=False))

# ---------------------------------------------------------------- track 3
curve(SPPA, "x4", "y4", "#00c000", 4.5, shape="vh")
curve(TRPM, "x4", "y4", "#000000", 5)
curve(TFLO, "x4", "y4", "#8000ff", 4.5)

# ---------------------------------------------------------------- track 4
curve(STICK, "x5", "y5", "#ff8000", 2, fill="tozerox", fillcolor="#ff8000")
curve(CRPM, "x5", "y5", "#000000", 5)
curve(STOR, "x11", "y5", "#0000ff", 4.5, shape="vh")

# ---------------------------------------------------------------- track 5
curve(SHKRSK, "x6", "y6", "#ff0000", 2.5)
curve(VIB_X, "x6", "y6", "#0000ff", 4)
curve(VIB_LAT, "x6", "y6", "#804040", 4)

# ---------------------------------------------------------------- flags column + track 6
fy = []
for a, b in FLAG_BLOCKS:
    fy += [a, b, None]
fig.add_trace(go.Scatter(x=[0.5 if v is not None else None for v in fy], y=fy, xaxis="x8", yaxis="y8",
                         mode="lines", line=dict(color="#000000", width=20),
                         hoverinfo="skip", showlegend=False))
curve(GENERIC_01, "x9", "y9", "#0000ff", 5.5)
curve(TEMP_DNI, "x9", "y9", "#8000ff", 5)

# ---------------------------------------------------------------- annotations
ann = []
for name, col, xa, xv, yv, dx, dy in CURVE_LABELS:
    ya = "y" + xa[1:]
    ann.append(dict(xref=xa, yref=ya, x=xv, y=yv, ax=dx, ay=dy, axref="pixel", ayref="pixel",
                    text="<b>%s</b>" % name, showarrow=True, arrowhead=2, arrowsize=1.1, arrowwidth=4,
                    arrowcolor=col, standoff=0, font=dict(family=NARROW, size=31, color=col)))
SURVEY_OFFSETS = [(52, 69), (59, 57), (46, 64), (56, 62)]
for tm, (dx, dy) in zip(SURVEY_NOTE_MIN, SURVEY_OFFSETS):
    ann.append(dict(xref="x3", yref="y3", x=0, y=tm, ax=dx, ay=dy, text="Survey", showarrow=True,
                    arrowhead=2, arrowsize=1.1, arrowwidth=4, arrowcolor="#000000", standoff=0,
                    bgcolor="#ffffff", bordercolor="#000000", borderwidth=3.5, borderpad=4,
                    font=dict(family="Liberation Sans, Arial, sans-serif", size=28, color="#000000")))

# ---------------------------------------------------------------- axes
W, H = 1584, 2112
edges = {  # track domains in page pixels
    "t1": (5.4, 216.7), "t2": (216.7, 505.0), "tc": (505.0, 649.9), "t3": (649.9, 938.2),
    "t4": (938.2, 1081.4), "t5": (1081.4, 1225.5), "t6": (1225.5, 1564.0), "fl": (1564.0, 1584.0),
    "t6w": (1225.5, 1584.0)}


def dom(k):
    a, b = edges[k]
    return [a / W, b / W]


def xax(k, anchor, rng, dtick=None):
    d = dict(domain=dom(k), anchor=anchor, range=rng, showticklabels=False, ticks="", zeroline=False,
             showline=False, fixedrange=True)
    if dtick:
        d.update(showgrid=True, tick0=0, dtick=dtick, gridcolor="#8c8c8c", gridwidth=2.5)
    else:
        d["showgrid"] = False
    return d


def yax(anchor, grid=True, minor=True, line=True, match=True):
    d = dict(domain=[0, 1], anchor=anchor, range=Y_RANGE, showticklabels=False, ticks="", zeroline=False,
             tick0=0, dtick=15, showgrid=grid, gridcolor="#000000", gridwidth=5,
             showline=line, linecolor="#8c8c8c", linewidth=5, layer="below traces", fixedrange=True)
    if minor:
        d["minor"] = dict(tick0=0, dtick=3, showgrid=True, gridcolor="#000000", gridwidth=2.2)
    if match:
        d["matches"] = "y"
    return d


layout = dict(
    width=W, height=H, margin=dict(l=0, r=0, t=0, b=0), paper_bgcolor="#ffffff",
    plot_bgcolor="rgba(0,0,0,0)", showlegend=False, annotations=ann,
    xaxis=xax("t1", "y", [0, 100], 50),
    yaxis=yax("x", match=False),
    xaxis2=xax("t2", "y2", [0, 100], 20), yaxis2=yax("x2"),
    xaxis3=xax("tc", "y3", [0, 100]), yaxis3=yax("x3", grid=False, minor=False),
    xaxis4=xax("t3", "y4", [0, 100], 20), yaxis4=yax("x4"),
    xaxis5=xax("t4", "y5", [0, 100]), yaxis5=yax("x5"),
    xaxis6=xax("t5", "y6", [0, 100]), yaxis6=yax("x6"),
    xaxis7=xax("t6", "y7", [0, 94.42], 20), yaxis7=yax("x7"),
    xaxis8=xax("fl", "y8", [0, 1]), yaxis8=yax("x8", minor=False, line=False),
    xaxis9=xax("t6w", "y9", [0, 100]), yaxis9=yax("x9", grid=False, minor=False, line=False),
    xaxis10=dict(overlaying="x", anchor="y", range=[2009, 3022], visible=False, fixedrange=True),
    xaxis11=dict(overlaying="x5", anchor="y5", range=[100, 0], visible=False, fixedrange=True),
)
fig.update_layout(**layout)

fig.write_html("out.html", include_plotlyjs=True, config={"displayModeBar": False, "staticPlot": True},
               post_script="document.body.style.margin='0px';")
